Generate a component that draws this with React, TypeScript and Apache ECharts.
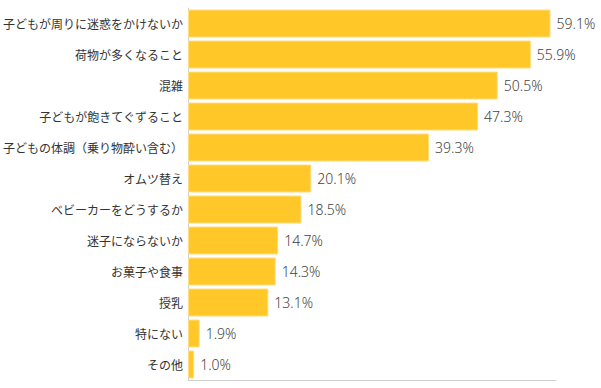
import React, { useEffect, useRef } from "react";
import * as echarts from "echarts";

const categories = [
  "子どもが周りに迷惑をかけないか",
  "荷物が多くなること",
  "混雑",
  "子どもが飽きてぐずること",
  "子どもの体調（乗り物酔い含む）",
  "オムツ替え",
  "ベビーカーをどうするか",
  "迷子にならないか",
  "お菓子や食事",
  "授乳",
  "特にない",
  "その他",
];
const values = [59.1, 55.9, 50.5, 47.3, 39.3, 20.1, 18.5, 14.7, 14.3, 13.1, 1.9, 1.0];

export default function App() {
  const ref = useRef<HTMLDivElement>(null);
  useEffect(() => {
    const chart = echarts.init(ref.current!, undefined, { renderer: "svg" });
    chart.setOption({
      animation: false,
      grid: { left: 184, right: 45, top: 8, bottom: 8 },
      xAxis: {
        type: "value",
        min: 0,
        max: 60,
        axisLine: { show: true, lineStyle: { color: "#d0d0d0" } },
        axisTick: { show: false },
        axisLabel: { show: false },
        splitLine: { show: false },
      },
      yAxis: {
        type: "category",
        data: categories,
        inverse: true,
        axisLine: { show: true, lineStyle: { color: "#d0d0d0" } },
        axisTick: { show: false },
        axisLabel: {
          color: "#333",
          fontSize: 12,
          fontFamily: "Noto Sans CJK JP",
          margin: 5,
        },
      },
      series: [
        {
          type: "bar",
          data: values,
          barWidth: 28,
          itemStyle: { color: "#FFC828", borderColor: "#FFDC80", borderWidth: 1 },
          label: {
            show: true,
            position: "right",
            distance: 6,
            formatter: (p: any) => p.value.toFixed(1) + "%",
            color: "#444",
            fontSize: 14,
            fontFamily: "Noto Sans",
            fontWeight: 300,
          },
        },
      ],
    });
    return () => chart.dispose();
  }, []);
  return <div ref={ref} style={{ width: 601, height: 388, position: "absolute", left: 0, top: 0 }} />;
}
